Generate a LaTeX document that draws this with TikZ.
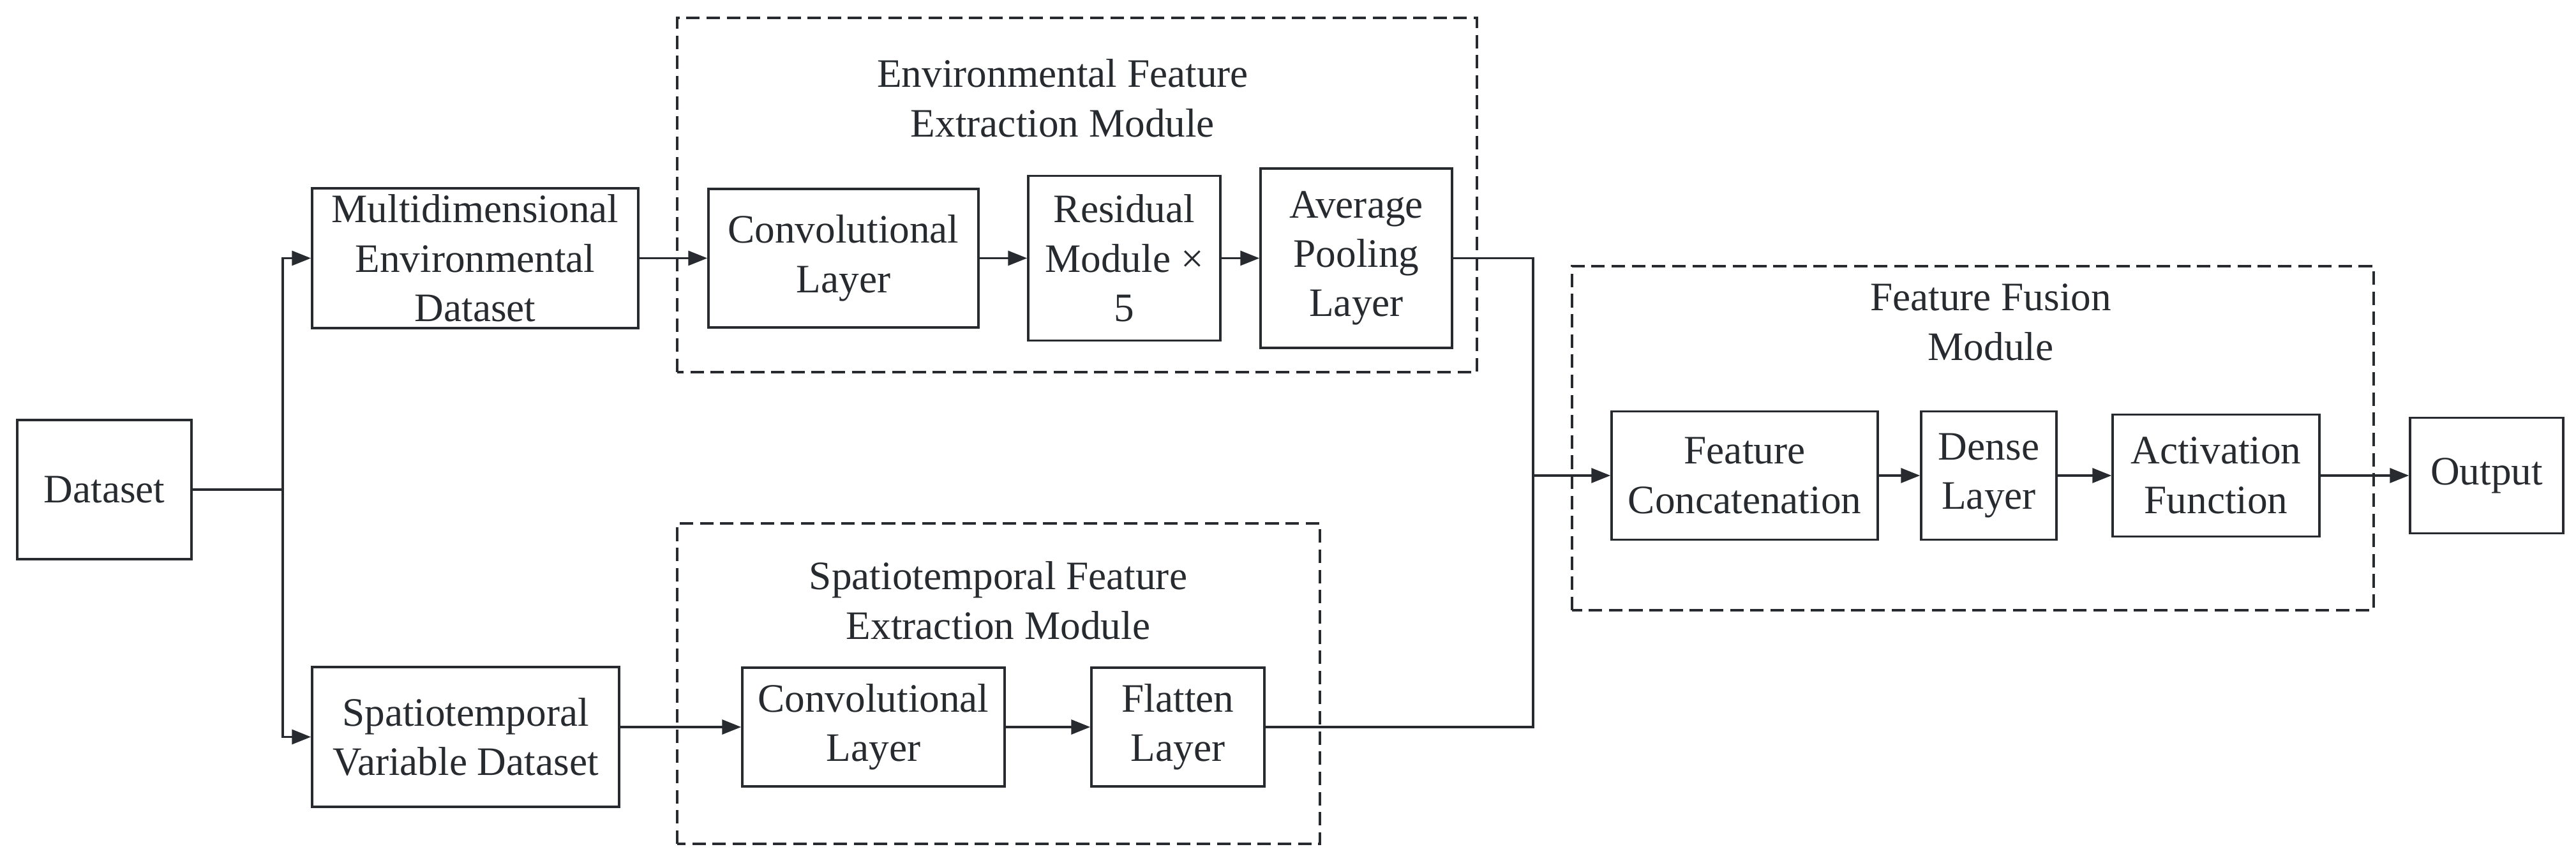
\documentclass[tikz,border=0pt]{standalone}
\usepackage{fontspec}
\setmainfont{Liberation Serif}
\usetikzlibrary{arrows.meta,positioning}
\definecolor{Ink}{HTML}{272B2F}
\tikzset{
  flowarrow/.style={-{Triangle[length=8.5pt,width=6.5pt]}, line width=1pt, draw=Ink},
  flowline/.style={line width=1pt, draw=Ink},
  blocknode/.style={draw=Ink, line width=1pt, fill=white, align=center, inner sep=1pt, text=Ink, font=\fontsize{18}{22}\selectfont},
  modulebox/.style={draw=Ink, line width=0.9pt, dash pattern=on 6pt off 3pt},
  moduletitle/.style={align=center, inner sep=1pt, text=Ink, font=\fontsize{18}{22}\selectfont},
}
\begin{document}
\begin{tikzpicture}[x=1cm,y=1cm]
\path[use as bounding box] (0,0) rectangle (40.36,13.52);
\fill[white] (0,0) rectangle (40.36,13.52);

% inputs
\node[blocknode,minimum width=2.73cm,minimum height=2.18cm] (dataset) at (1.635,5.85) {Dataset};
\node[blocknode,minimum width=5.11cm,minimum height=2.19cm] (envdata) at (7.445,9.475) {Multidimensional\\Environmental\\Dataset};
\node[blocknode,minimum width=4.81cm,minimum height=2.19cm] (stdata) at (7.295,1.975) {Spatiotemporal\\Variable Dataset};
\coordinate (split) at (4.43,5.85);
\draw[flowline] (dataset.east) -- (split);
\draw[flowarrow] (split) |- (envdata.west);
\draw[flowarrow] (split) |- (stdata.west);

% environmental branch
\draw[modulebox] (10.61,7.69) rectangle (23.14,13.24);
\node[moduletitle] (envtitle) at (16.65,11.98) {Environmental Feature\\Extraction Module};
\node[blocknode,minimum width=4.23cm,minimum height=2.17cm] (envconv) at (13.215,9.475) {Convolutional\\Layer};
\node[blocknode,minimum width=3.01cm,minimum height=2.58cm] (resid) at (17.615,9.475) {Residual\\Module ×\\5};
\node[blocknode,minimum width=3.00cm,minimum height=2.81cm] (pool) at (21.25,9.475) {Average\\Pooling\\Layer};
\draw[flowarrow] (envdata.east) -- (envconv.west);
\draw[flowarrow] (envconv) -- (resid);
\draw[flowarrow] (resid) -- (pool);

% spatiotemporal branch
\draw[modulebox] (10.61,0.30) rectangle (20.68,5.32);
\node[moduletitle] (sttitle) at (15.64,4.11) {Spatiotemporal Feature\\Extraction Module};
\node[blocknode,minimum width=4.11cm,minimum height=1.86cm] (stconv) at (13.685,2.13) {Convolutional\\Layer};
\node[blocknode,minimum width=2.71cm,minimum height=1.86cm] (flat) at (18.455,2.13) {Flatten\\Layer};
\draw[flowarrow] (stdata.east |- stconv.west) -- (stconv.west);
\draw[flowarrow] (stconv) -- (flat);

% fusion
\draw[modulebox] (24.63,3.96) rectangle (37.19,9.35);
\node[moduletitle] (fusetitle) at (31.19,8.47) {Feature Fusion\\Module};
\node[blocknode,minimum width=4.17cm,minimum height=2.01cm] (concat) at (27.335,6.07) {Feature\\Concatenation};
\node[blocknode,minimum width=2.12cm,minimum height=2.01cm] (dense) at (31.16,6.07) {Dense\\Layer};
\node[blocknode,minimum width=3.24cm,minimum height=1.91cm] (act) at (34.72,6.07) {Activation\\Function};
\node[blocknode,minimum width=2.40cm,minimum height=1.81cm] (output) at (38.96,6.07) {Output};
\coordinate (merge) at (24.02,6.07);
\draw[flowline] (pool.east) -| (merge);
\draw[flowline] (flat.east) -| (merge);
\draw[flowarrow] (merge) -- (concat.west);
\draw[flowarrow] (concat) -- (dense);
\draw[flowarrow] (dense) -- (act);
\draw[flowarrow] (act) -- (output);
\end{tikzpicture}
\end{document}
